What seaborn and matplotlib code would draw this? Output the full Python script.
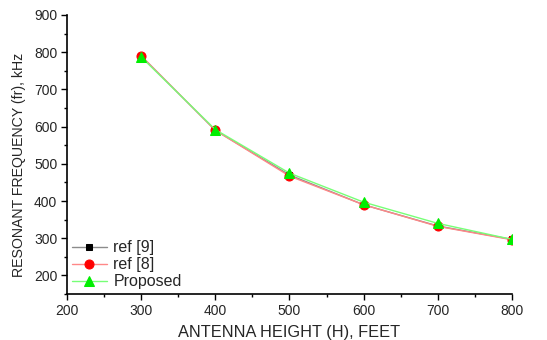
import numpy as np
import pandas as pd
import matplotlib
matplotlib.use("Agg")
import matplotlib.pyplot as plt
import seaborn as sns
from matplotlib.ticker import MultipleLocator

heights = [300, 400, 500, 600, 700, 800]
ref9 = [790, 590, 470, 390, 333, 297]
ref8 = [790, 590, 467, 390, 332, 296]
proposed = [787, 592, 475, 397, 340, 297]
series_names = ["ref [9]", "ref [8]", "Proposed"]

df = pd.DataFrame({
    "H": heights * 3,
    "fr": ref9 + ref8 + proposed,
    "series": [series_names[0]] * 6 + [series_names[1]] * 6 + [series_names[2]] * 6,
})

sns.set_style("ticks")
plt.rcParams["font.family"] = ["Liberation Sans", "DejaVu Sans"]

fig = plt.figure(figsize=(5.47, 3.40), dpi=100)
ax = fig.add_axes([0.1225, 0.135, 0.8135, 0.821])

line_colors = {"ref [9]": "#8c8c8c", "ref [8]": "#ff8888", "Proposed": "#77ff77"}
marker_colors = {"ref [9]": "black", "ref [8]": "red", "Proposed": "#00ee00"}
markers = {"ref [9]": "s", "ref [8]": "o", "Proposed": "^"}
msizes = {"ref [9]": 5, "ref [8]": 6.5, "Proposed": 7}

for name in series_names:
    sub = df[df["series"] == name]
    sns.lineplot(data=sub, x="H", y="fr", ax=ax, color=line_colors[name],
                 linewidth=1.0, marker=markers[name], markersize=msizes[name],
                 markerfacecolor=marker_colors[name],
                 markeredgecolor=marker_colors[name], label=name)

ax.set_xlim(200, 800)
ax.set_ylim(150, 900)
ax.xaxis.set_major_locator(MultipleLocator(100))
ax.xaxis.set_minor_locator(MultipleLocator(50))
ax.yaxis.set_minor_locator(MultipleLocator(50))
ax.set_yticks([200, 300, 400, 500, 600, 700, 800, 900])
ax.tick_params(which="major", length=4, width=1, labelsize=10, direction="out",
               color="black", pad=3)
ax.tick_params(which="minor", length=2, width=1, direction="out", color="black")
for side in ["top", "right"]:
    ax.spines[side].set_visible(False)
for side in ["left", "bottom"]:
    ax.spines[side].set_linewidth(1.2)
    ax.spines[side].set_color("black")

ax.set_xlabel("ANTENNA HEIGHT (H), FEET", fontsize=11.8, labelpad=5)
ax.set_ylabel("RESONANT FREQUENCY (fr), kHz", fontsize=10.2)
ax.yaxis.set_label_coords(-0.093, 0.462)

leg = ax.legend(loc="lower left", frameon=False, fontsize=11.5, handlelength=2.2,
                borderaxespad=0.1, borderpad=0.2, labelspacing=0.12,
                handletextpad=0.4)

fig.savefig("out.png", dpi=100)
